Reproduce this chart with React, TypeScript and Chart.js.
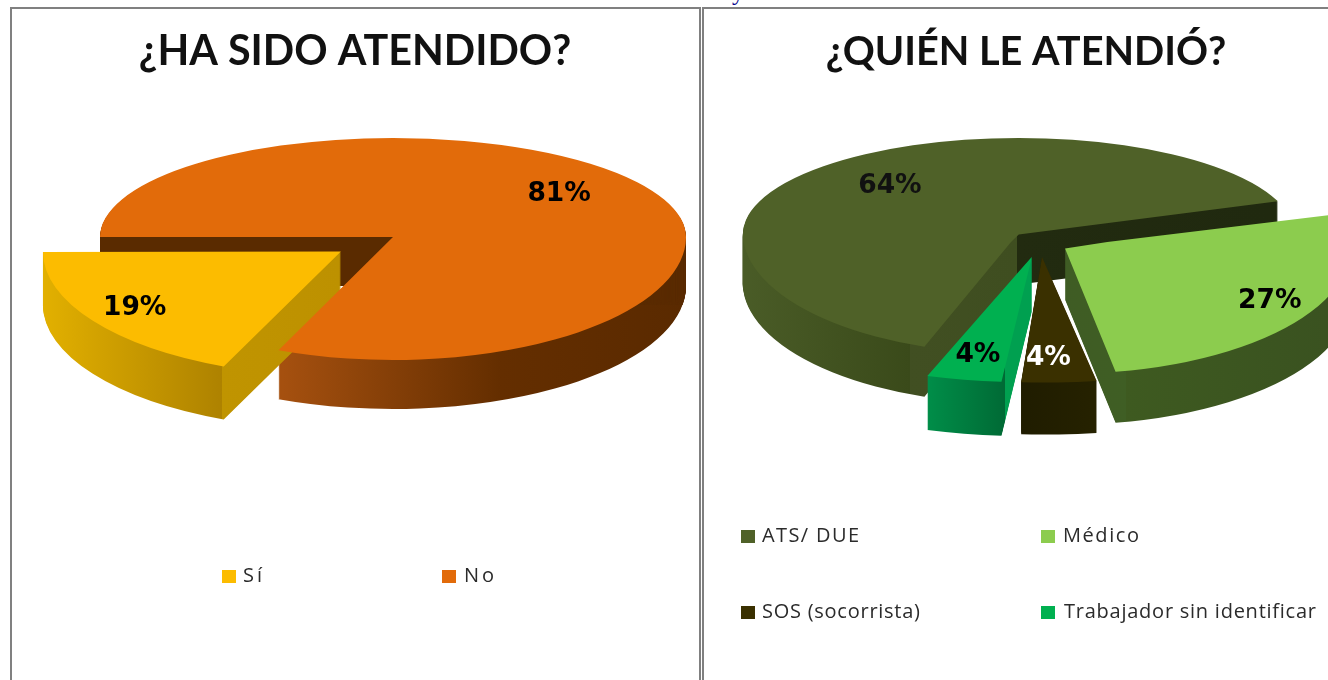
import React, { useEffect, useRef } from "react";
import { Chart, registerables } from "chart.js";

Chart.register(...registerables);

const titleLeft = "¿HA SIDO ATENDIDO?";
const categoriesLeft = ["Sí", "No"];
const valuesLeft = [18.6, 81.4];
const coloursLeft = ["#fcbc00", "#e26b0a"];
const offsetsLeft = [250, 0];

const titleRight = "¿QUIÉN LE ATENDIÓ?";
const categoriesRight = ["ATS/ DUE", "Médico", "SOS (socorrista)", "Trabajador sin identificar"];
const valuesRight = [64, 27.3, 4.03, 4.03];
const coloursRight = ["#4f6128", "#8ccc4e", "#3a3000", "#00b050"];
const offsetsRight = [120, 116, 160, 160];

const FONT = "Lato, 'Open Sans', sans-serif";
const LEGEND_FONT = "'Open Sans', sans-serif";

const viewLeft = {
  left: 12, top: 9, width: 686, height: 671,
  rotation: 203,
  centerX: 393, centerY: 237, kTop: 0.338, kBottom: [0.42, 0.42],
  depth: [53, 49],
  radii: [298, 293],
  order: [1, 0],
  labelFraction: [0.83, 0.68],
  labelNudge: [[0, -1], [0, -6]],
  labelColours: ["#000", "#000"],
  sides: [
    [[43, "#e2b000"], [222, "#ae8200"], [222, "#c09400"], [340, "#bd9100"]],
    [[283, "#a5500f"], [500, "#642e00"], [686, "#5a2a00"]],
  ],
  walls: [null, { maxY: 305, colour: "#5a2b00" }],
  legendX: [222, 442],
  legendY: [576, 576],
  legendTextX: [243, 464],
  legendWidths: [19, 30],
  titleSize: 41.3,
  titlePad: 18,
};

const viewRight = {
  left: 704, top: 9, width: 644, height: 671,
  rotation: 199,
  centerX: 1040, centerY: 242, kTop: 0.35, kBottom: [0.44, 0.44, 0.375, 0.375],
  depth: [50, 51, 52, 54],
  radii: [276, 285, 335, 335],
  order: [0, 1, 3, 2],
  labelFraction: [0.68, 0.82, 0.79, 0.765],
  labelNudge: [[4, -2], [3, 1], [-7, 2], [-2, 4]],
  labelColours: ["#111", "#000", "#fff", "#000"],
  sides: [
    [[741, "#4a5c27"], [910, "#3a4a1a"], [910, "#414f22"], [1017, "#3f4e20"], [1017, "#222b10"], [1270, "#20290f"]],
    [[1063, "#3f5c24"], [1126, "#3f5e24"], [1126, "#3e5a20"], [1328, "#3a5220"]],
    [[1014, "#1f1c00"], [1100, "#262200"]],
    [[922, "#00904a"], [1005, "#006a35"], [1005, "#00a050"], [1032, "#00a050"]],
  ],
  walls: [null, null, null, null],
  legendX: [741, 1041, 741, 1041],
  legendY: [536, 536, 612, 612],
  legendTextX: [762, 1063, 762, 1064],
  legendWidths: [97, 76, 158, 252],
  titleSize: 39.7,
  titlePad: 19,
};

function makePlugin(view: any, colours: string[], values: number[], labels: string[]) {
  return {
    id: "tilted",
    beforeDatasetsDraw(chart: any) {
      const ctx = chart.ctx;
      const arcs = chart.getDatasetMeta(0).data;
      const tx = view.centerX - view.left;
      const ty = view.centerY - view.top;
      const W = chart.width;
      const H = chart.height;

      const drawFlat = (arc: any, i: number, fill: any, d: number) => {
        const o = arc.options;
        const savedOpts = arc.options;
        const savedR = arc.outerRadius;
        const fix = 1 - Math.sin(Math.min(Math.PI, arc.circumference));
        arc.outerRadius = view.radii[i] - ((o.offset || 0) / 4) * fix;
        arc.options = {
          offset: o.offset, spacing: 0, circular: true, borderWidth: 0, borderRadius: 0,
          borderColor: fill, backgroundColor: fill, borderAlign: "center",
        };
        const parts = [
          { y0: 0, h: ty + d, k: view.kTop },
          { y0: ty + d, h: H - ty - d, k: view.kBottom[i] },
        ];
        for (const p of parts) {
          ctx.save();
          ctx.beginPath();
          ctx.rect(0, p.y0, W, p.h);
          ctx.clip();
          ctx.translate(tx, ty + d);
          ctx.scale(1, p.k);
          ctx.translate(-arc.x, -arc.y);
          arc.draw(ctx);
          ctx.restore();
        }
        arc.options = savedOpts;
        arc.outerRadius = savedR;
      };

      const sideFill = (arc: any, i: number) => {
        const stops = view.sides[i];
        const mid = (arc.startAngle + arc.endAngle) / 2;
        const dx = Math.cos(mid) * ((arc.options.offset || 0) / 4);
        const x0 = stops[0][0];
        const x1 = stops[stops.length - 1][0];
        const toUser = (px: number) => px - view.left - tx + arc.x - dx;
        const g = ctx.createLinearGradient(toUser(x0), 0, toUser(x1), 0);
        for (const [px, c] of stops) g.addColorStop((px - x0) / (x1 - x0), c);
        return g;
      };

      for (const i of view.order) {
        const g = sideFill(arcs[i], i);
        for (let d = view.depth[i]; d >= 1; d--) drawFlat(arcs[i], i, g, d);
        const wall = view.walls[i];
        if (wall) {
          ctx.save();
          ctx.beginPath();
          ctx.rect(0, 0, W, wall.maxY - view.top);
          ctx.clip();
          for (let d = view.depth[i]; d >= 1; d--) drawFlat(arcs[i], i, wall.colour, d);
          ctx.restore();
        }
      }
      for (const i of view.order) drawFlat(arcs[i], i, colours[i], 0);

      // percentage labels
      const total = values.reduce((a, b) => a + b, 0);
      ctx.save();
      ctx.font = "bold 26.5px 'DejaVu Sans'";
      ctx.textAlign = "center";
      ctx.textBaseline = "middle";
      arcs.forEach((arc: any, i: number) => {
        const mid = (arc.startAngle + arc.endAngle) / 2;
        const r = (arc.options.offset || 0) / 4 + view.radii[i] * view.labelFraction[i];
        const dy = Math.sin(mid) * r;
        const x = tx + Math.cos(mid) * r + view.labelNudge[i][0];
        const y = ty + dy * (dy < 0 ? view.kTop : view.kBottom[i]) + view.labelNudge[i][1];
        ctx.fillStyle = view.labelColours[i];
        ctx.fillText(Math.round((values[i] / total) * 100) + "%", x, y);
      });
      ctx.restore();

      // legend
      ctx.save();
      ctx.font = `20px ${LEGEND_FONT}`;
      ctx.textBaseline = "middle";
      ctx.textAlign = "left";
      labels.forEach((text, i) => {
        const y = view.legendY[i] - view.top;
        ctx.fillStyle = colours[i];
        ctx.fillRect(view.legendX[i] - view.left, y - 6, 14, 13);
        (ctx as any).letterSpacing = "0px";
        const w = ctx.measureText(text).width;
        (ctx as any).letterSpacing = `${(view.legendWidths[i] - w) / Math.max(1, text.length - 1)}px`;
        ctx.fillStyle = "#2b2b2b";
        ctx.fillText(text, view.legendTextX[i] - view.left, y);
      });
      ctx.restore();
      return false;
    },
  };
}

function Pie({ view, title, labels, values, colours, offsets }: any) {
  const ref = useRef<HTMLCanvasElement>(null);
  useEffect(() => {
    const chart = new Chart(ref.current as HTMLCanvasElement, {
      type: "pie",
      data: {
        labels,
        datasets: [
          {
            data: values,
            backgroundColor: colours,
            offset: offsets,
            radius: view.radii[0],
            borderWidth: 0,
          } as any,
        ],
      },
      options: {
        responsive: false,
        animation: false,
        rotation: view.rotation,
        layout: { padding: 0 },
        events: [],
        plugins: {
          legend: { display: false },
          tooltip: { enabled: false },
          title: {
            display: true,
            text: title,
            color: "#111",
            font: { family: FONT, size: view.titleSize, weight: "bold" },
            padding: { top: view.titlePad, bottom: 10 },
          },
        },
      } as any,
      plugins: [makePlugin(view, colours, values, labels)],
    });
    return () => chart.destroy();
  }, []);
  return (
    <canvas
      ref={ref}
      width={view.width}
      height={view.height}
      style={{ position: "absolute", left: view.left, top: view.top, display: "block" }}
    />
  );
}

const frame = (left: number, width: number): React.CSSProperties => ({
  position: "absolute",
  left,
  top: 7,
  width,
  height: 700,
  border: "2px solid #808080",
  boxSizing: "border-box",
});

export default function App() {
  return (
    <div style={{ position: "fixed", left: 0, top: 0, width: 1328, height: 680, overflow: "hidden", background: "#fff" }}>
      <span style={{ position: "absolute", left: 732, top: -21, font: "24px 'Liberation Serif', serif", color: "#00008b" }}>y</span>
      <div style={frame(10, 691)} />
      <div style={frame(702, 640)} />
      <Pie view={viewLeft} title={titleLeft} labels={categoriesLeft} values={valuesLeft} colours={coloursLeft} offsets={offsetsLeft} />
      <Pie view={viewRight} title={titleRight} labels={categoriesRight} values={valuesRight} colours={coloursRight} offsets={offsetsRight} />
    </div>
  );
}
